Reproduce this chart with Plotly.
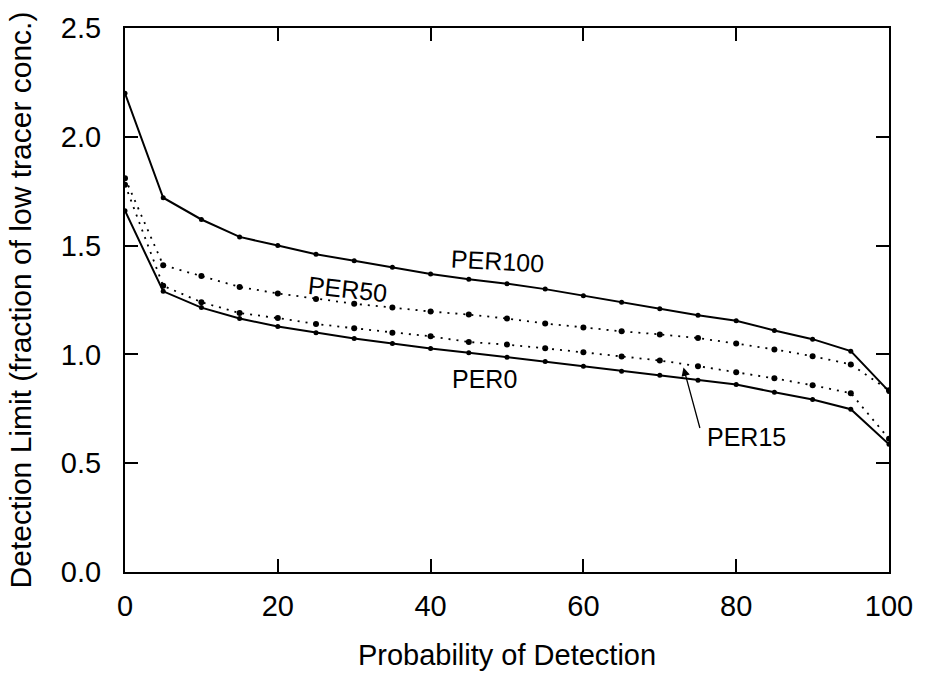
import plotly.graph_objects as go

prob = [0, 5, 10, 15, 20, 25, 30, 35, 40, 45, 50, 55, 60, 65, 70, 75, 80, 85, 90, 95, 100]
per100 = [2.20, 1.72, 1.62, 1.54, 1.50, 1.46, 1.43, 1.40, 1.37, 1.345, 1.325, 1.30, 1.27, 1.24, 1.21, 1.18, 1.155, 1.11, 1.07, 1.015, 0.83]
per50 = [1.81, 1.41, 1.36, 1.31, 1.28, 1.255, 1.233, 1.215, 1.197, 1.183, 1.165, 1.142, 1.124, 1.106, 1.092, 1.075, 1.05, 1.023, 0.992, 0.954, 0.835]
per15 = [1.78, 1.315, 1.24, 1.19, 1.167, 1.14, 1.12, 1.10, 1.083, 1.057, 1.045, 1.028, 1.01, 0.99, 0.972, 0.946, 0.918, 0.89, 0.858, 0.822, 0.612]
per0 = [1.66, 1.29, 1.215, 1.165, 1.128, 1.10, 1.073, 1.05, 1.027, 1.008, 0.987, 0.967, 0.945, 0.923, 0.904, 0.881, 0.862, 0.826, 0.793, 0.748, 0.587]

x_ticks = [0, 20, 40, 60, 80, 100]
y_ticks = [0.0, 0.5, 1.0, 1.5, 2.0, 2.5]

FONT = "Liberation Sans, Arial, Helvetica, sans-serif"

fig = go.Figure()

def add(y, dotted):
    fig.add_trace(go.Scatter(
        x=prob, y=y, mode="lines+markers",
        line=dict(color="black", width=1.8 if dotted else 2.0,
                  dash="2px,6px" if dotted else "solid"),
        marker=dict(color="black", size=6 if dotted else 5),
        showlegend=False, hoverinfo="skip"))

add(per100, False)
add(per50, True)
add(per15, True)
add(per0, False)

lab_font = dict(family=FONT, size=25, color="black")
fig.add_annotation(x=48.7, y=1.43, text="PER100", showarrow=False, font=lab_font, textangle=3)
fig.add_annotation(x=29.1, y=1.30, text="PER50", showarrow=False, font=lab_font, textangle=6)
fig.add_annotation(x=47.1, y=0.885, text="PER0", showarrow=False, font=lab_font)
fig.add_annotation(x=81.4, y=0.62, text="PER15", showarrow=False, font=lab_font)
fig.add_annotation(x=73.1, y=0.94, ax=75.3, ay=0.655, axref="x", ayref="y",
                   xref="x", yref="y", text="", showarrow=True,
                   arrowhead=2, arrowsize=1.3, arrowwidth=1.3, arrowcolor="black")

axis_common = dict(
    showline=True, linecolor="black", linewidth=2, mirror="ticks",
    ticks="inside", ticklen=13, tickwidth=1.5, tickcolor="black",
    showgrid=False, zeroline=False,
    tickfont=dict(family=FONT, size=29, color="black"),
)

fig.update_xaxes(range=[0, 100], tickvals=x_ticks, ticktext=[str(v) for v in x_ticks],
                 title=dict(text="Probability of Detection", standoff=24,
                            font=dict(family=FONT, size=29, color="black")),
                 ticklabelstandoff=7, **axis_common)
fig.update_yaxes(range=[0, 2.5], tickvals=y_ticks, ticktext=[f"{v:.1f}" for v in y_ticks],
                 title=dict(text="Detection Limit (fraction of low tracer conc.)", standoff=20,
                            font=dict(family=FONT, size=30, color="black")),
                 ticklabelstandoff=16, **axis_common)

fig.update_layout(
    width=925, height=682,
    margin=dict(l=125, r=30, t=27, b=110),
    paper_bgcolor="white", plot_bgcolor="white",
)

fig.write_html("out.html", config={"displayModeBar": False},
               post_script="document.body.style.margin='0';document.body.style.overflow='hidden';")
